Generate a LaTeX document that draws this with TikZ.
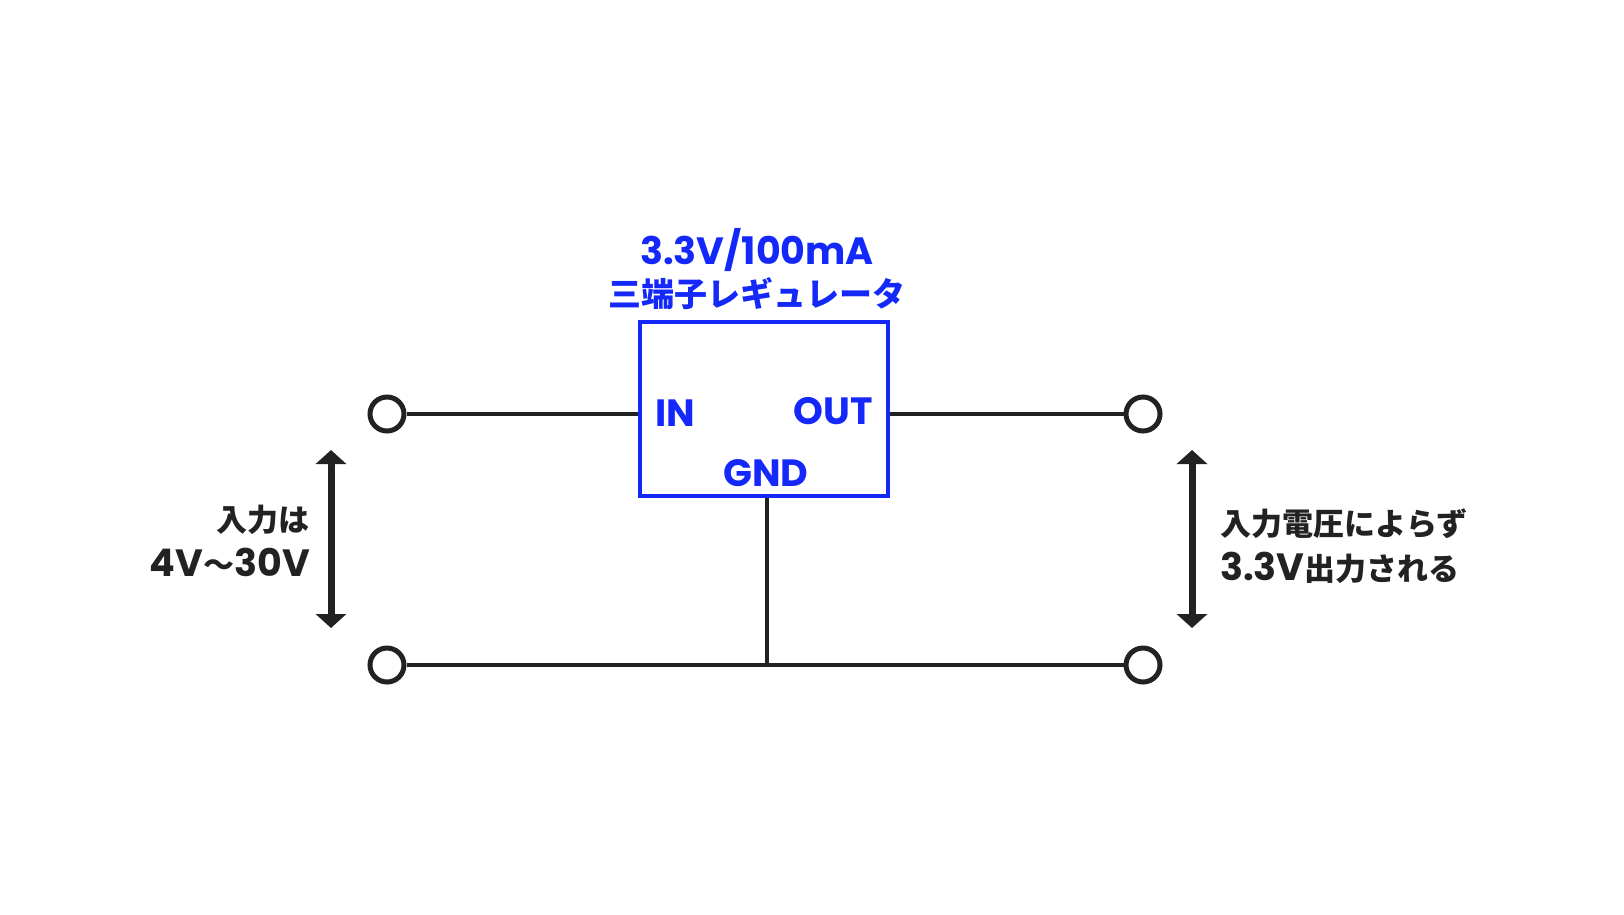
\documentclass[tikz,border=0pt]{standalone}
\usepackage{fontspec}
\setmainfont{Noto Sans CJK JP}[BoldFont={* Black}]
\newfontfamily\popf{Poppins}[UprightFont={* Bold},BoldFont={* Bold}]
\newcommand{\pop}{\popf\fontsize{38}{45}\selectfont}
\usetikzlibrary{arrows.meta}
\definecolor{blu}{RGB}{20,40,250}
\definecolor{drk}{RGB}{34,34,34}
\tikzset{
 wire/.style={draw=drk,line width=4.5pt},
 term/.style={circle,draw=drk,line width=5pt,minimum size=34pt,inner sep=0pt,fill=white},
 lbl/.style={font=\fontsize{33}{42}\selectfont\bfseries,text=blu,inner sep=0pt},
 txt/.style={font=\fontsize{31}{45}\selectfont\bfseries,text=drk,inner sep=0pt,align=#1},
 varrow/.style={draw=drk,line width=7pt,{Triangle[width=30pt,length=14pt]}-{Triangle[width=30pt,length=14pt]}}
}
\begin{document}
\begin{tikzpicture}[x=1pt,y=-1pt]
\useasboundingbox (0,0) rectangle (1624,914);
\node[draw=blu,line width=4.5pt,minimum width=248pt,minimum height=174pt,inner sep=0pt] (reg) at (764,409) {};
\node[lbl] (t1) at (757,250) {\pop 3.3V/100mA};
\node[lbl] (t2) at (757,294) {三端子レギュレータ};
\node[lbl] (in) at (675,413) {\pop IN};
\node[lbl] (out) at (833,411) {\pop OUT};
\node[lbl] (gnd) at (766,473) {\pop GND};
\node[term] (a) at (387,414) {};
\node[term] (b) at (1143,414) {};
\node[term] (c) at (387,665) {};
\node[term] (d) at (1143,665) {};
\coordinate (rin) at (reg.west |- a);
\coordinate (rout) at (reg.east |- b);
\coordinate (g) at (767,665);
\draw[wire] (a) -- (rin);
\draw[wire] (rout) -- (b);
\draw[wire] (c) -- (d);
\draw[wire] (reg.south -| g) -- (g);
\coordinate (l1) at (331,450); \coordinate (l2) at (331,628);
\coordinate (r1) at (1192,450); \coordinate (r2) at (1192,628);
\draw[varrow] (l1) -- (l2);
\draw[varrow] (r1) -- (r2);
\node[txt=right,anchor=east] (lt) at (310,541) {入力は\\{\pop 4V}〜{\pop 30V}};
\node[txt=left,anchor=west] (rt) at (1220,546) {入力電圧によらず\\{\pop 3.3V}出力される};
\end{tikzpicture}
\end{document}
